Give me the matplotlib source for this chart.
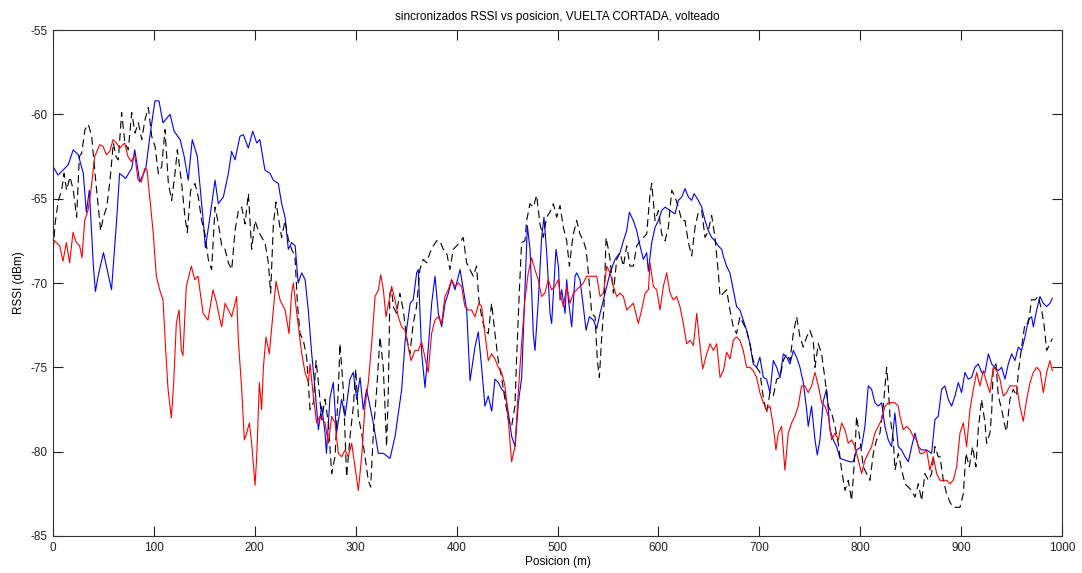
import matplotlib
matplotlib.use("Agg")
import matplotlib.pyplot as plt

title = "sincronizados RSSI vs posicion, VUELTA CORTADA, volteado"
xlabel = "Posicion (m)"
ylabel = "RSSI (dBm)"
xticks = [0, 100, 200, 300, 400, 500, 600, 700, 800, 900, 1000]
yticks = [-85, -80, -75, -70, -65, -60, -55]

blue_x = [0, 5, 10, 15, 20, 25, 30, 33, 36, 40, 42, 45, 50, 54, 58, 63, 66, 72, 78, 81, 86, 92, 96, 101, 105, 109, 116, 120, 126, 130, 134, 138, 143, 149, 151, 155,
          160.6, 163.8, 168.8, 173.8, 177, 180.4, 185.3, 188.6, 193.6, 197.9, 201.9, 205, 210, 215, 218.4, 223.3, 226.6, 230, 233.2, 236.5, 240, 243, 246.5, 249.8,
          253, 256.4, 259.7, 263, 266.3, 269.6, 271, 274.5, 277.8, 281, 286, 289.4, 294.3, 297.6, 301, 304.3, 307.5, 310.8, 317.4, 322.4, 327.4,
          334, 339, 345.6, 349, 354, 357, 360.4, 362, 365.4, 368.7, 372, 375.3, 378.6, 381.9, 385.2, 388.5, 391.8, 395.1, 398.4, 403.4, 406.7, 410, 413.3,
          418.2, 421.5, 424.8, 428.1, 431.4, 434.8, 438, 441.4, 444.7, 448, 451.3, 454.6, 458, 461.2, 464.5, 467.8, 470.1, 472.8, 476, 477.7, 481, 484.3,
          486.6, 489.3, 492.6, 494.2, 498.5, 500.9, 502.5, 504.2, 507.5, 509.1, 510.8, 514.1, 517.4, 519, 522.3, 525.6, 528.3, 531.6, 535.5, 538.9, 542.2,
          545.5, 548.8, 552.1, 557, 562, 565.3, 568.6, 571.2, 575.2, 578.5, 581.8, 585.1, 588.4, 590, 593.4, 596.7, 600, 603.3, 606.6, 611.5, 616.5, 619.8,
          623.1, 626.4, 629.7, 633, 635.3, 639.6, 642.9, 646.2, 649.5, 652.8, 656.1, 659.4, 662.7, 664.3, 667.6, 670.9, 674.2, 677.5, 680.8, 684.1, 687.4,
          690.7, 694, 697.3, 700.6, 704, 707.2, 710.6, 713.9, 717.2, 720.5, 723.8, 727.1, 730.4, 733.7, 737, 740.3, 743.6, 746.9, 748.5, 751.8, 755.2,
          757.5, 760.1, 763.4, 766.7, 770, 773.3, 776.6, 780, 784.9, 789.8, 793.1, 796.4, 801.4, 804.7, 808, 811.3, 814.6, 817.9, 821.2, 824.5, 827.8,
          831.1, 834.4, 837.7, 841, 844.4, 847.7, 851, 854.3, 857.6, 860.9, 865.8, 870.8, 874.1, 877.4, 880.7, 884, 887.3, 890.6, 893.9, 897.2, 900.5,
          903.8, 907.1, 910.4, 913.7, 917, 920.4, 923.7, 927, 930.3, 933.6, 936.9, 940.2, 943.5, 946.8, 950.1, 953.4, 956.7, 960, 963.3, 966.6, 969.9,
          971.6, 974.9, 978.2, 981.5, 984.8, 988.1, 990.4]
blue_y = [-63.1, -63.6, -63.3, -63.0, -62.1, -62.4, -63.5, -65.8, -64.5, -69.0, -70.5, -69.5, -68.2, -69.3, -70.4, -66.3, -63.5, -63.8, -63.2, -62.1, -64.0, -63.2, -61.3, -59.2, -59.2, -60.5, -60.0, -61.0, -61.5, -62.5, -63.9, -61.5, -62.5, -66.4, -67.9, -66.3,
          -63.9, -65.3, -64.9, -63.5, -62.2, -62.7, -61.3, -61.2, -62.0, -61.0, -61.7, -61.5, -63.3, -63.5, -63.9, -64.1, -65.3, -66.1, -68.0, -67.6, -67.8, -70.0, -69.4, -69.8,
          -71.6, -74.2, -76.3, -78.7, -77.3, -78.9, -80.1, -76.8, -75.9, -78.9, -76.9, -77.9, -75.7, -75.3, -76.9, -75.6, -77.5, -76.3, -78.3, -80.1, -80.1,
          -80.4, -79.1, -76.3, -73.4, -71.2, -71.0, -69.4, -69.2, -74.2, -76.2, -73.8, -71.2, -69.6, -71.8, -72.6, -71.2, -70.6, -69.8, -70.4, -69.2, -70.4, -71.6, -75.8,
          -73.8, -72.9, -75.0, -77.3, -76.7, -77.6, -75.7, -75.9, -76.3, -76.5, -77.7, -79.1, -79.7, -77.1, -75.6, -70.2, -66.6, -68.0, -73.0, -74.0, -71.0, -67.3,
          -66.1, -68.2, -71.8, -72.4, -68.0, -69.0, -71.0, -70.4, -71.8, -69.8, -71.0, -72.6, -69.6, -69.4, -69.8, -71.4, -72.8, -72.0, -72.2, -72.7, -71.8,
          -71.0, -70.2, -69.4, -68.6, -68.2, -67.5, -66.9, -65.8, -66.3, -66.9, -67.8, -68.6, -68.2, -69.3, -67.6, -66.7, -66.3, -65.7, -65.5, -65.7, -65.9, -65.1,
          -64.9, -64.4, -64.9, -65.1, -64.7, -65.1, -65.5, -66.3, -66.9, -67.3, -67.5, -67.8, -68.0, -68.4, -69.0, -69.4, -70.4, -71.4, -71.6, -72.2, -72.8,
          -73.6, -74.8, -75.0, -74.4, -75.6, -75.7, -76.5, -74.6, -75.0, -75.6, -74.2, -74.4, -74.8, -74.0, -74.4, -75.0, -75.9, -77.5, -78.5, -77.3, -79.3,
          -80.2, -79.3, -77.0, -76.3, -78.7, -79.3, -79.7, -80.4, -80.5, -80.6, -80.6, -79.9, -79.7, -78.5, -76.1, -76.3, -77.1, -77.3, -77.1, -78.5, -79.3,
          -79.7, -77.7, -79.7, -79.9, -80.3, -80.6, -79.7, -78.9, -79.7, -79.9, -79.9, -80.1, -78.1, -77.9, -76.3, -76.1, -76.9, -77.3, -76.7, -75.9, -76.5,
          -75.3, -75.7, -75.6, -75.0, -74.8, -75.3, -75.3, -74.2, -74.8, -75.0, -75.2, -75.0, -75.7, -74.8, -74.2, -74.6, -73.8, -74.0, -73.2, -72.2, -72.0,
          -72.6, -71.6, -70.8, -71.2, -71.4, -71.2, -70.9]

black_x = [0.3, 2, 5.3, 8.6, 10.9, 13.5, 16.8, 20.1, 23.4, 26.1, 28.4, 31.7, 35, 38.3, 41.6, 44.9, 47.2, 49.9, 53.2, 56.5, 59.8, 62.4, 64.7, 68, 71.3, 74.6, 78,
           81.3, 84.6, 87.9, 91.2, 94.5, 97.8, 101.1, 104.4, 107.7, 111, 114.3, 117.6, 120.9, 123.2, 127.5, 130.8, 133.1, 136.4, 140.7, 144, 147.3, 150.6, 153.9,
           157.2, 158.9, 160.6, 163.9, 167.2, 170.5, 173.8, 177.1, 180.4, 183.7, 187, 190.3, 193.6, 196.9, 200.2, 203.5, 206.8, 210.1, 213.4, 215.7, 218.4,
           221, 223.3, 226.6, 229.9, 233.2, 236.5, 239.8, 242.2, 244.8, 248.1, 251.4, 254.7, 258, 260.7, 263, 266.3, 269.6, 272.9, 276.2, 279.5, 282.8, 284.4,
           287.7, 291, 294.4, 297.7, 300, 302.6, 305.9, 309.2, 312.5, 314.8, 317.5, 320.8, 324.1, 327.3, 329, 330.6, 332.3, 333.9, 335.6, 337.2, 340.5, 343.8,
           347.1, 350.4, 353.7, 357, 360.3, 363.6, 366.9, 370.3, 373.6, 376.9, 380.2, 383.5, 386.8, 390.1, 393.4, 396.7, 400, 403.3, 406.6, 409.9, 413.2, 416.5,
           419.8, 422.1, 424.8, 428.1, 431.4, 434.7, 438, 441.3, 444.6, 447.9, 451.2, 454.5, 457.8, 459.4, 462.1, 464.4, 467.7, 469.4, 472.7, 476, 479.3, 482.6,
           485.9, 489.2, 492.5, 495.9, 499.2, 502.5, 505.8, 509.1, 511.8, 514.1, 515.7, 519, 522.3, 525.6, 528.3, 530.6, 532.2, 533.9, 537.2, 539.5, 541.5,
           543.8, 546.1, 548.1, 550.4, 552.1, 555.4, 558.7, 562, 565.3, 568.6, 571.9, 575.2, 578.5, 581.8, 585.1, 588.4, 591.7, 593.4, 596.7, 600, 603.3, 606.6,
           609.9, 613.2, 616.5, 619.8, 623.1, 626.4, 629.7, 633, 636.3, 639.6, 642.9, 646.2, 649.5, 652.8, 656.1, 659.4, 661.1, 664.3, 667.6, 670.9, 674.2,
           677.5, 680.8, 684.1, 687.4, 690.7, 694, 697.3, 700.6, 704, 707.2, 710.6, 713.9, 717.2, 720.5, 723.8, 727.1, 730.4, 733.7, 737, 740.3, 743.6, 746.9,
           750.2, 753.5, 755.2, 758.5, 761.8, 765.1, 768.4, 771.7, 775, 778.3, 781.6, 784.9, 788.2, 791.5, 794.8, 796.4, 799.8, 803.1, 806.4, 809.7, 813, 816.3,
           819.6, 822.9, 826.2, 827.8, 829.5, 832.8, 834.5, 837.8, 841.1, 844.4, 847.7, 851, 854.3, 857.6, 860.9, 864.2, 867.5, 870.8, 874.1, 877.4, 879.1,
           882.4, 885.7, 889, 892.3, 895.6, 898.9, 902.2, 904.8, 908.1, 911.4, 914.7, 917, 920.3, 923.7, 925.3, 928.6, 930.3, 931.9, 934.6, 936.9, 940.2, 943.5,
           945.1, 948.4, 951.7, 955, 956.7, 960, 963.3, 966.6, 969.9, 973.2, 976.5, 979.8, 982.1, 984.8, 988.1, 990.4]
black_y = [-68.0, -66.5, -65.1, -64.5, -63.5, -64.5, -63.7, -64.5, -66.1, -62.5, -62.3, -60.9, -60.6, -61.3, -63.5, -65.5, -66.9, -66.1, -65.5, -63.9, -61.7, -62.5, -62.7, -59.9, -61.7, -62.1, -59.9,
           -61.1, -60.5, -61.5, -60.3, -59.6, -61.3, -61.9, -63.5, -63.1, -60.9, -64.1, -65.1, -63.5, -62.1, -64.1, -66.1, -67.0, -64.5, -64.1, -64.9, -66.3, -67.1, -68.6,
           -69.2, -67.4, -65.5, -66.5, -67.8, -68.0, -68.8, -69.2, -66.9, -65.7, -65.5, -66.5, -64.7, -68.0, -66.3, -66.9, -67.3, -67.6, -68.8, -70.6, -66.5,
           -65.2, -66.1, -67.3, -66.3, -67.4, -68.0, -68.4, -71.2, -73.0, -73.4, -74.4, -77.5, -77.1, -74.6, -75.9, -78.1, -76.9, -78.3, -81.3, -80.3, -76.3, -73.6,
           -76.3, -81.5, -79.1, -77.3, -75.1, -77.9, -78.9, -80.3, -81.7, -82.1, -78.9, -76.3, -73.2, -75.0, -77.3, -79.7, -76.5, -70.6, -70.4, -71.4, -71.8, -70.6,
           -71.6, -73.2, -74.2, -72.4, -71.4, -69.2, -68.6, -68.8, -68.2, -67.8, -67.5, -67.5, -68.0, -68.2, -69.2, -68.0, -67.8, -67.6, -67.3, -68.8, -69.2, -69.6,
           -69.0, -71.0, -72.0, -72.8, -73.0, -71.2, -73.0, -74.6, -75.6, -76.9, -78.1, -78.5, -77.3, -74.6, -70.6, -67.6, -67.5, -66.3, -65.3, -65.5, -64.8, -66.5,
           -67.3, -66.1, -65.8, -65.3, -66.1, -65.4, -66.7, -67.5, -69.0, -67.8, -67.1, -66.3, -67.1, -67.5, -68.0, -69.4, -70.6, -71.8, -72.0, -74.6, -75.6,
           -73.2, -71.4, -67.3, -68.0, -68.6, -70.6, -68.6, -68.2, -69.0, -67.8, -69.0, -69.0, -67.8, -67.5, -67.3, -67.1, -64.7, -64.1, -66.3, -65.7, -67.1, -67.5,
           -66.7, -64.5, -64.9, -65.5, -66.3, -66.3, -67.6, -68.4, -66.7, -65.8, -65.7, -67.3, -66.9, -66.0, -67.3, -69.4, -70.8, -70.6, -70.4, -71.6, -72.6,
           -73.0, -72.0, -72.4, -72.8, -73.6, -74.6, -75.0, -75.3, -76.8, -77.7, -76.5, -76.7, -75.7, -75.6, -74.6, -74.2, -74.6, -73.0, -72.0, -73.2, -73.8, -73.2,
           -72.8, -73.4, -75.0, -73.6, -74.2, -75.7, -77.3, -77.7, -78.5, -79.5, -81.1, -82.3, -81.7, -82.9, -80.1, -77.9, -79.3, -80.9, -81.3, -81.7, -80.1, -79.3,
           -78.9, -77.3, -75.0, -76.1, -77.9, -79.3, -81.1, -80.1, -81.1, -81.9, -82.1, -82.3, -82.7, -81.9, -82.9, -81.3, -81.7, -81.3, -79.7, -80.3, -80.3,
           -81.7, -82.5, -83.0, -83.3, -83.3, -83.3, -82.5, -80.1, -80.9, -79.7, -80.9, -78.7, -76.9, -78.3, -79.5, -78.9, -77.7, -75.0, -74.8, -76.7, -77.5, -78.5,
           -78.8, -76.9, -76.3, -76.7, -75.3, -73.8, -72.4, -72.4, -71.0, -71.0, -70.8, -71.6, -72.4, -74.0, -73.6, -73.3]

red_x = [0, 3.3, 6.6, 9.9, 13.2, 16.5, 19.8, 23.1, 26.4, 28.7, 31.4, 34.7, 38, 41.3, 46.3, 49.6, 52.9, 56.2, 59.5, 62.8, 66.1, 71, 74.3, 77.6, 81, 84.3, 87.6,
         90.9, 93.2, 95.8, 99.1, 102.4, 105.7, 109, 111.7, 114, 117.3, 119.6, 122.2, 124.9, 127.2, 128.8, 132.1, 137.1, 140.4, 143.7, 148.7, 153.6, 158.6,
         162.2, 165.5, 167.2, 170.5, 173.8, 177.1, 182, 183.7, 187, 189.6, 191.9, 194.6, 196.9, 200.2, 201.9, 204.5, 206.8, 208.5, 211.1, 214.4, 217.7, 221,
         225, 230, 233.9, 236.5, 238.2, 240.8, 243.2, 246.5, 249.8, 253.1, 254.7, 258, 261.3, 264.6, 269.6, 272.9, 276.2, 279.5, 282.8, 286.1, 289.4, 292.7,
         296, 299.3, 302.6, 305.9, 309.2, 312.5, 315.8, 319.2, 322.5, 324.8, 327.4, 330, 333.2, 335.6, 338.9, 342.2, 345.5, 348.8, 352.1, 354.8, 358.7, 362,
         365.3, 368.6, 371.9, 375.2, 378.5, 381.8, 385.1, 388.4, 391.7, 395, 398.3, 401.6, 404.9, 408.2, 411.6, 414.9, 418.2, 422.1, 424.8, 428.1, 431.4,
         434.7, 438, 441.3, 444.6, 447.9, 451.2, 454.5, 457.8, 461.1, 464.4, 467.7, 471, 474.3, 477.6, 480.9, 484.2, 487.5, 490.8, 494.1, 497.4, 500.7,
         502.5, 505.8, 509.1, 512.4, 515.7, 519, 522.3, 525.6, 528.9, 532.2, 535.5, 538.9, 542.2, 545.5, 548.8, 552.1, 555.4, 558.7, 562, 565.3, 568.6,
         571.9, 575.2, 580.1, 583.4, 586.8, 590.1, 591.7, 595, 598.3, 601.6, 604.9, 608.2, 611.5, 614.8, 618.1, 621.4, 624.7, 628, 631.4, 634.7, 638, 640.6,
         643.9, 647.9, 651.2, 654.5, 657.8, 661.1, 664.4, 667.7, 671, 674.2, 677.5, 680.8, 684.1, 687.4, 690.7, 694, 697.3, 700.6, 704, 707.2, 710.6, 713.9,
         716.5, 718.8, 722.1, 725.4, 728.7, 732, 735.3, 738.6, 741.9, 745.2, 748.5, 751.8, 755.2, 758.5, 761.8, 765.1, 768.4, 771.7, 775, 778.3, 781.6,
         784.9, 788.2, 791.5, 794.8, 798.1, 801.4, 804.7, 808, 811.3, 814.6, 817.9, 821.2, 824.5, 827.8, 831.1, 834.4, 837.7, 839.4, 842.7, 846, 849.3,
         852.6, 855.9, 859.2, 862.5, 865.8, 869.1, 872.4, 875.8, 879.1, 882.4, 885.7, 889, 892.3, 895.6, 898.9, 902.2, 905.5, 908.8, 912.1, 915.4, 918.7,
         922, 925.3, 928.6, 931.9, 935.2, 938.5, 941.8, 945.1, 948.4, 951.7, 955, 958.3, 961.6, 965, 968.3, 971.6, 974.9, 978.2, 981.5, 984.8, 988.1, 990.4]
red_y = [-67.4, -67.6, -67.8, -68.7, -67.6, -68.8, -67.0, -67.6, -67.8, -68.5, -66.3, -65.7, -64.3, -62.5, -61.8, -61.9, -62.4, -62.2, -61.5, -61.7, -62.0, -61.7, -62.5, -62.8, -62.4, -63.9, -64.0,
         -63.2, -63.3, -64.9, -66.9, -69.6, -70.4, -71.0, -74.0, -76.3, -78.0, -75.9, -72.4, -71.6, -74.0, -74.3, -70.2, -69.0, -69.8, -69.6, -71.8, -72.2, -70.4,
         -71.2, -72.2, -72.6, -71.2, -71.6, -72.0, -70.8, -73.4, -76.3, -79.3, -78.9, -78.3, -79.5, -82.0, -80.3, -75.9, -77.5, -75.0, -73.2, -74.2, -72.0, -69.9,
         -71.0, -71.6, -73.0, -70.6, -70.0, -71.4, -72.6, -74.2, -75.3, -75.9, -74.8, -76.7, -78.3, -77.9, -78.3, -79.5, -77.9, -78.3, -80.1, -80.3, -79.9, -80.3,
         -79.5, -80.9, -82.3, -80.3, -77.3, -75.9, -73.6, -70.8, -70.4, -69.5, -70.4, -72.0, -71.0, -70.2, -71.0, -72.0, -72.6, -72.8, -73.8, -74.6, -74.0, -74.0,
         -73.5, -74.4, -75.3, -73.0, -72.2, -72.0, -72.4, -70.8, -70.4, -69.8, -70.2, -70.0, -70.2, -71.4, -71.6, -71.6, -72.0, -71.2, -71.4, -73.0, -74.6,
         -74.2, -74.5, -75.0, -75.3, -76.1, -78.1, -80.6, -79.7, -76.5, -73.6, -71.0, -69.4, -68.5, -69.2, -69.8, -70.8, -70.6, -69.8, -70.4, -70.2, -69.8,
         -70.6, -71.4, -70.2, -71.2, -70.6, -70.4, -70.2, -70.0, -69.6, -69.6, -69.6, -69.6, -70.8, -70.6, -69.0, -69.4, -70.2, -70.8, -70.6, -70.8, -71.6,
         -71.4, -71.2, -72.4, -71.6, -70.6, -70.4, -68.8, -70.2, -70.4, -71.6, -70.2, -69.4, -70.6, -71.0, -70.8, -71.4, -72.4, -73.6, -73.4, -73.7, -71.8, -73.4,
         -75.1, -74.2, -73.6, -74.0, -73.6, -75.6, -75.2, -74.1, -74.5, -73.4, -73.2, -73.4, -74.0, -75.0, -75.0, -75.2, -75.6, -76.5, -77.1, -77.5, -77.3, -78.5,
         -79.9, -78.9, -78.5, -81.1, -78.9, -78.3, -77.9, -77.3, -76.1, -76.1, -76.5, -76.1, -75.3, -76.1, -77.1, -77.3, -77.9, -79.3, -78.9, -79.3, -78.3,
         -78.7, -79.5, -79.3, -79.7, -80.5, -81.3, -80.5, -80.1, -79.7, -78.9, -78.5, -78.1, -77.3, -77.1, -77.1, -77.1, -77.3, -77.9, -78.7, -78.5, -78.7,
         -79.1, -79.3, -80.1, -80.1, -79.9, -81.1, -80.3, -81.3, -81.7, -81.7, -81.7, -81.9, -81.7, -80.9, -78.9, -78.3, -79.7, -77.5, -76.3, -75.3, -76.1,
         -75.2, -75.9, -76.5, -75.0, -75.2, -75.7, -76.7, -76.5, -76.1, -76.1, -76.1, -77.3, -78.2, -76.9, -75.9, -75.3, -75.0, -75.2, -76.5, -75.3, -74.6, -75.2]

plt.rcParams['font.family'] = ['Liberation Sans', 'DejaVu Sans']
plt.rcParams['axes.unicode_minus'] = False
fig = plt.figure(figsize=(10.82, 5.73), dpi=100)
ax = fig.add_axes([0.049, 0.0646, 0.9325, 0.883])

ax.plot(blue_x, blue_y, color=(0, 0, 1), lw=0.8)
ax.plot(black_x, black_y, color='black', lw=0.8, dashes=(7, 4))
ax.plot(red_x, red_y, color=(1, 0, 0), lw=0.8)

ax.set_xlim(0, 1000)
ax.set_ylim(-85, -55)
ax.set_xticks(xticks)
ax.set_yticks(yticks)
ax.tick_params(direction='in', top=True, right=True, length=7, width=0.8, labelsize=8.5, colors='#222222', pad=4)
for s in ax.spines.values():
    s.set_color('#333333')
    s.set_linewidth(0.8)
ax.set_title(title, fontsize=8.5, pad=7)
ax.set_xlabel(xlabel, fontsize=8.5, labelpad=2)
ax.set_ylabel(ylabel, fontsize=8.5, labelpad=4)

fig.savefig("out.png", dpi=100)
